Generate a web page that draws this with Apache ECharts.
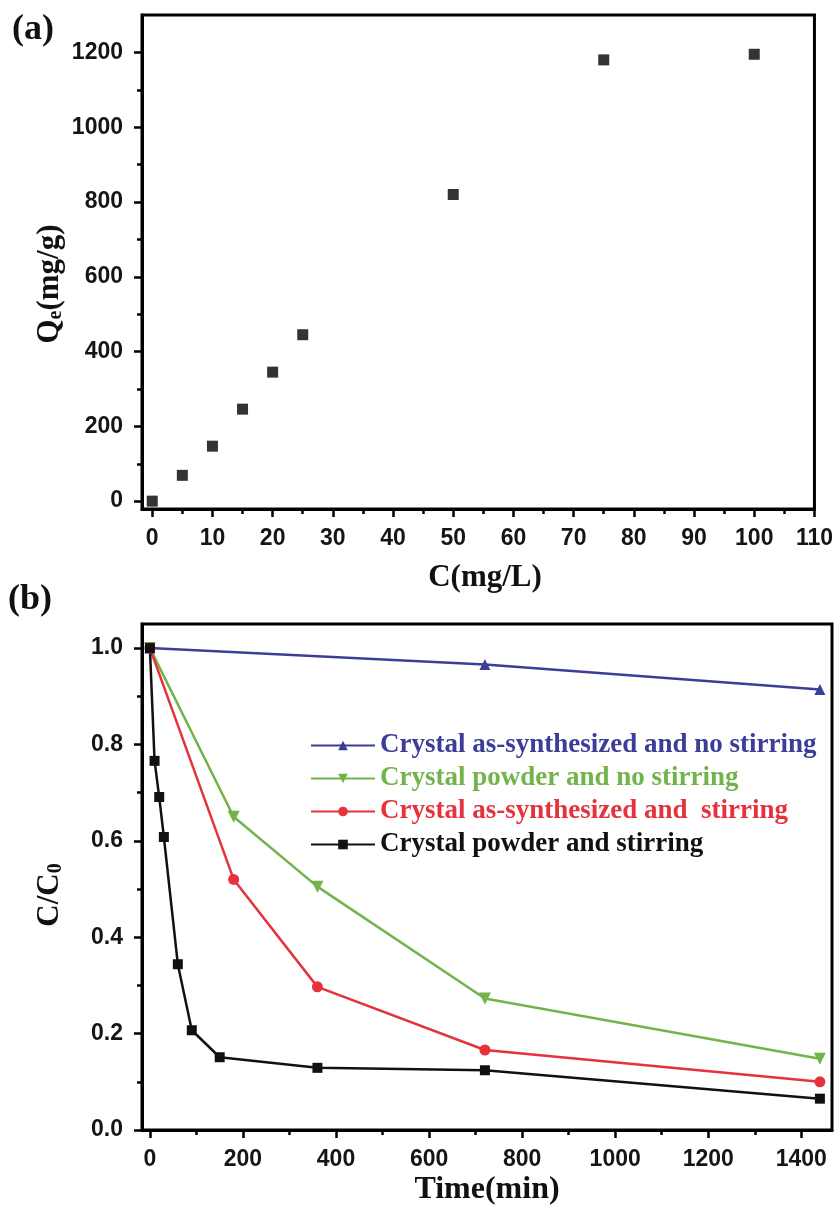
<!DOCTYPE html>
<html>
<head>
<meta charset="utf-8">
<script src="https://cdn.jsdelivr.net/npm/echarts@6/dist/echarts.min.js"></script>
<style>
  html, body { margin: 0; padding: 0; background: #fff; }
  #chart { width: 836px; height: 1209px; }
</style>
</head>
<body>
<div id="chart"></div>
<script>
// panel (a): adsorption capacity vs concentration
var concC = [0, 5, 10, 15, 20, 25, 50, 75, 100];
var qe = [0, 69, 147, 246, 345, 445, 820, 1180, 1195];
var aXMajor = [0, 10, 20, 30, 40, 50, 60, 70, 80, 90, 100, 110];
var aXMinor = [5, 15, 25, 35, 45, 55, 65, 75, 85, 95, 105];
var aYMajor = [0, 200, 400, 600, 800, 1000, 1200];
var aYMinor = [100, 300, 500, 700, 900, 1100];

// panel (b): C/C0 vs time
var tBlue = [0, 720, 1440];
var vBlue = [1.0, 0.966, 0.914];
var tGreen = [0, 180, 360, 720, 1440];
var vGreen = [1.0, 0.65, 0.505, 0.273, 0.148];
var tRed = [0, 180, 360, 720, 1440];
var vRed = [1.0, 0.52, 0.297, 0.166, 0.1];
var tBlack = [0, 10, 20, 30, 60, 90, 150, 360, 720, 1440];
var vBlack = [1.0, 0.766, 0.691, 0.608, 0.344, 0.207, 0.151, 0.129, 0.124, 0.065];
var bXMajor = [0, 200, 400, 600, 800, 1000, 1200, 1400];
var bXMinor = [100, 300, 500, 700, 900, 1100, 1300];
var bYMajor = [0, 0.2, 0.4, 0.6, 0.8, 1.0];
var bYMinor = [0.1, 0.3, 0.5, 0.7, 0.9];

var names = [
  "Crystal as-synthesized and no stirring",
  "Crystal powder and no stirring",
  "Crystal as-synthesized and  stirring",
  "Crystal powder and stirring"
];
var colors = ["#3b3d98", "#72b34c", "#e5323c", "#111111"];

function pairs(xs, ys) {
  return xs.map(function (x, i) { return [x, ys[i]]; });
}

var SANS = "'Liberation Sans', Arial, sans-serif";
var SERIF = "'Liberation Serif', 'Times New Roman', serif";

function majorAxis(kind, grid, min, max, ticks, fmt, pos) {
  return {
    type: "value", gridIndex: grid, min: min, max: max, position: pos,
    splitLine: { show: false },
    axisLine: { show: true, onZero: false, lineStyle: { color: "#000", width: 3 } },
    axisTick: { show: true, customValues: ticks, length: 8, lineStyle: { color: "#000", width: 2.5 } },
    axisLabel: {
      customValues: ticks, margin: kind == "x" ? 18 : 19,
      color: "#151515", fontFamily: SANS, fontWeight: "bold", fontSize: 23,
      formatter: fmt
    }
  };
}
function minorAxis(grid, min, max, ticks, pos) {
  return {
    type: "value", gridIndex: grid, min: min, max: max, position: pos,
    splitLine: { show: false },
    axisLine: { show: false, onZero: false },
    axisTick: { show: true, customValues: ticks, length: 5, lineStyle: { color: "#000", width: 2.5 } },
    axisLabel: { show: false }
  };
}

var chart = echarts.init(document.getElementById("chart"));
var option = {
  backgroundColor: "#fff",
  animation: false,
  grid: [
    { left: 142, right: 19, top: 15, height: 494, show: true, borderColor: "#000", borderWidth: 3 },
    { left: 142, right: 4, top: 624, height: 506, show: true, borderColor: "#000", borderWidth: 3 }
  ],
  xAxis: [
    majorAxis("x", 0, -1.7, 110, aXMajor, function (v) { return String(v); }, "bottom"),
    minorAxis(0, -1.7, 110, aXMinor, "bottom"),
    majorAxis("x", 1, -17, 1466, bXMajor, function (v) { return String(v); }, "bottom"),
    minorAxis(1, -17, 1466, bXMinor, "bottom")
  ],
  yAxis: [
    majorAxis("y", 0, -21, 1300, aYMajor, function (v) { return String(v); }, "left"),
    minorAxis(0, -21, 1300, aYMinor, "left"),
    majorAxis("y", 1, 0, 1.05, bYMajor, function (v) { return v.toFixed(1); }, "left"),
    minorAxis(1, 0, 1.05, bYMinor, "left")
  ],
  legend: {
    orient: "vertical", left: 305, top: 727,
    itemWidth: 64, itemHeight: 12, itemGap: 6,
    textStyle: { fontFamily: SERIF, fontWeight: "bold", fontSize: 27, lineHeight: 27 },
    data: names.map(function (n, i) { return { name: n, textStyle: { color: colors[i] } }; })
  },
  series: [
    {
      name: "Qe", type: "scatter", xAxisIndex: 0, yAxisIndex: 0,
      symbol: "rect", symbolSize: 11, itemStyle: { color: "#000" },
      data: pairs(concC, qe)
    },
    {
      name: names[0], type: "line", xAxisIndex: 2, yAxisIndex: 2,
      symbol: "triangle", symbolSize: 11,
      lineStyle: { color: colors[0], width: 2.5 }, itemStyle: { color: colors[0] },
      data: pairs(tBlue, vBlue)
    },
    {
      name: names[1], type: "line", xAxisIndex: 2, yAxisIndex: 2,
      symbol: "triangle", symbolRotate: 180, symbolSize: 12,
      lineStyle: { color: colors[1], width: 2.5 }, itemStyle: { color: colors[1] },
      data: pairs(tGreen, vGreen)
    },
    {
      name: names[2], type: "line", xAxisIndex: 2, yAxisIndex: 2,
      symbol: "circle", symbolSize: 11,
      lineStyle: { color: colors[2], width: 2.5 }, itemStyle: { color: colors[2] },
      data: pairs(tRed, vRed)
    },
    {
      name: names[3], type: "line", xAxisIndex: 2, yAxisIndex: 2,
      symbol: "rect", symbolSize: 10,
      lineStyle: { color: colors[3], width: 2.5 }, itemStyle: { color: colors[3] },
      data: pairs(tBlack, vBlack)
    }
  ],
  graphic: [
    { type: "text", x: 33, y: 30, style: { text: "(a)", fill: "#111", font: "bold 36px " + SERIF, align: "center", verticalAlign: "middle" } },
    { type: "text", x: 30, y: 600, style: { text: "(b)", fill: "#111", font: "bold 36px " + SERIF, align: "center", verticalAlign: "middle" } },
    { type: "text", x: 485, y: 578, style: { text: "C(mg/L)", fill: "#111", font: "bold 31px " + SERIF, align: "center", verticalAlign: "middle" } },
    { type: "text", x: 487, y: 1190, style: { text: "Time(min)", fill: "#111", font: "bold 32px " + SERIF, align: "center", verticalAlign: "middle" } },
    {
      type: "text", x: 50, y: 284, rotation: Math.PI / 2,
      style: {
        text: "{m|Q}{s|e}{m|(mg/g)}", align: "center", verticalAlign: "middle", fill: "#111",
        rich: {
          m: { fontFamily: SERIF, fontWeight: "bold", fontSize: 31, lineHeight: 32, fill: "#111" },
          s: { fontFamily: SERIF, fontWeight: "bold", fontSize: 20, lineHeight: 14, verticalAlign: "bottom", fill: "#111" }
        }
      }
    },
    {
      type: "text", x: 50, y: 895, rotation: Math.PI / 2,
      style: {
        text: "{m|C/C}{s|0}", align: "center", verticalAlign: "middle", fill: "#111",
        rich: {
          m: { fontFamily: SERIF, fontWeight: "bold", fontSize: 31, lineHeight: 32, fill: "#111" },
          s: { fontFamily: SERIF, fontWeight: "bold", fontSize: 20, lineHeight: 14, verticalAlign: "bottom", fill: "#111" }
        }
      }
    }
  ]
};
chart.setOption(option);
</script>
</body>
</html>
